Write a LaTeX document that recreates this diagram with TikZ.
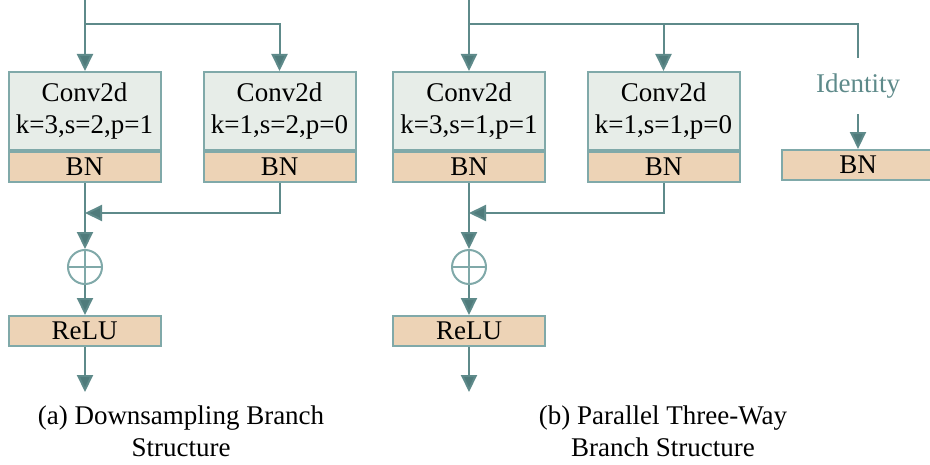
\documentclass[tikz,border=0pt]{standalone}
\usepackage{fontspec}
\setmainfont{Liberation Serif}
\usetikzlibrary{arrows.meta,positioning}
\definecolor{lnc}{HTML}{5E8A8A}
\definecolor{tipc}{HTML}{4F7B7B}
\definecolor{bdc}{HTML}{80A9A9}
\definecolor{convc}{HTML}{E7EDE8}
\definecolor{bnc}{HTML}{EDD3B6}
\begin{document}
\begin{tikzpicture}[x=0.5pt,y=-0.5pt,
        font=\fontsize{13.5pt}{16pt}\selectfont,
        conv/.style={draw=bdc, line width=1pt, fill=convc, minimum width=76pt, minimum height=39pt, inner sep=0pt, align=center},
        bn/.style  ={draw=bdc, line width=1pt, fill=bnc, minimum width=76pt, minimum height=15pt, inner sep=0pt},
        sum/.style ={circle, draw=bdc, line width=1pt, minimum size=17pt, inner sep=0pt,
                     path picture={\draw[bdc, line width=1pt] (path picture bounding box.north) -- (path picture bounding box.south)
                                   (path picture bounding box.west) -- (path picture bounding box.east);}},
        captxt/.style={align=center, inner sep=0pt},
        ln/.style  ={draw=lnc, line width=1pt},
        arr/.style ={ln, -{Triangle[length=8.5pt,width=8pt,fill=tipc]}}]
    \useasboundingbox (0,0) rectangle (930,465);
% (a) Downsampling
    \coordinate (ina) at (85,0);
    \coordinate (spa) at (85,24);
    \node[conv] (c1) at (84.5,111) {Conv2d\\k=3,s=2,p=1};
    \node[bn, below=0pt of c1] (bn1) {BN};
    \node[conv] (c2) at (279.5,111) {Conv2d\\k=1,s=2,p=0};
    \node[bn, below=0pt of c2] (bn2) {BN};
    \coordinate (ja) at (85,213);
    \node[sum] (s1) at (85,267) {};
    \node[bn] (r1) at (84.5,331) {ReLU};
    \coordinate (outa) at (85,392);
    \draw[arr] (ina) -- (c1.north -| ina);
    \draw[arr] (spa) -| (c2.north);
    \draw[arr] (bn2.south) |- (ja);
    \draw[arr] (bn1.south -| ina) -- (s1.north);
    \draw[arr] (s1.south) -- (r1.north -| ina);
    \draw[arr] (r1.south -| ina) -- (outa);
    \node[captxt] (capa) at (181,431) {(a) Downsampling Branch\\Structure};
% (b) Parallel three-way
    \coordinate (inb) at (469,0);
    \coordinate (spb) at (469,24);
    \node[conv] (c3) at (469,111) {Conv2d\\k=3,s=1,p=1};
    \node[bn, below=0pt of c3] (bn3) {BN};
    \node[conv] (c4) at (663.5,111) {Conv2d\\k=1,s=1,p=0};
    \node[bn, below=0pt of c4] (bn4) {BN};
    \node[text=lnc, inner sep=0pt, minimum height=28pt] (idt) at (858,86) {Identity};
    \node[bn] (bn5) at (858,165) {BN};
    \coordinate (jb) at (469,213);
    \node[sum] (s2) at (469,267) {};
    \node[bn] (r2) at (469,331) {ReLU};
    \coordinate (outb) at (469,392);
    \draw[arr] (inb) -- (c3.north);
    \draw[ln] (spb) -| (idt.north);
    \draw[arr] (c4.north |- spb) -- (c4.north);
    \draw[arr] (idt.south) -- (bn5.north);
    \draw[arr] (bn4.south) |- (jb);
    \draw[arr] (bn3.south) -- (s2.north);
    \draw[arr] (s2.south) -- (r2.north);
    \draw[arr] (r2.south) -- (outb);
    \node[captxt] (capb) at (663,431) {(b) Parallel Three-Way\\Branch Structure};
\end{tikzpicture}
\end{document}
